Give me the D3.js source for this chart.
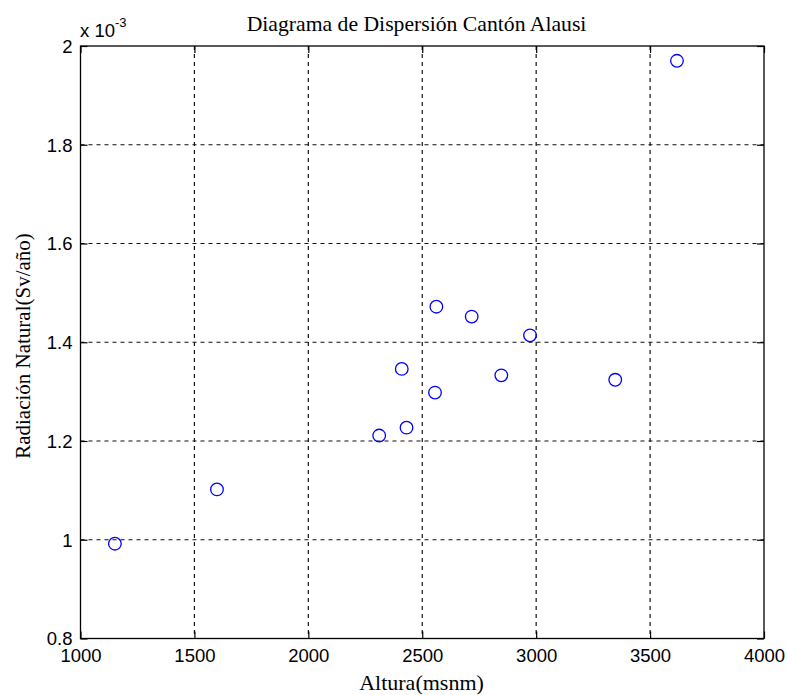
<!DOCTYPE html>
<html><head><meta charset="utf-8">
<script src="https://cdn.jsdelivr.net/npm/d3@7"></script>
<style>body{margin:0;background:#fff}</style>
</head><body>
<svg id="chart" width="787" height="695"></svg>
<script>
const altura = [1151, 1599, 2311, 2410, 2431, 2556, 2562, 2717, 2847, 2973, 3347, 3618];
const radiacion = [0.992, 1.102, 1.211, 1.346, 1.227, 1.298, 1.472, 1.452, 1.333, 1.414, 1.324, 1.970];
const xTicks = [1000, 1500, 2000, 2500, 3000, 3500, 4000];
const yTicks = [0.8, 1, 1.2, 1.4, 1.6, 1.8, 2];
const title = "Diagrama de Dispersión Cantón Alausi";
const xLabel = "Altura(msnm)";
const yLabel = "Radiación Natural(Sv/año)";

const svg = d3.select("#chart");
const L = 80.5, R = 764, T = 46, B = 638.5;
const x = d3.scaleLinear().domain([1000, 4000]).range([L, R]);
const y = d3.scaleLinear().domain([0.8, 2]).range([B, T]);

// grid
const grid = svg.append("g").attr("stroke", "#111").attr("stroke-width", 1.2).attr("stroke-dasharray", "4,4");
grid.selectAll("line.v").data(xTicks.slice(1, -1)).join("line")
  .attr("x1", d => x(d)).attr("x2", d => x(d)).attr("y1", T).attr("y2", B);
grid.selectAll("line.h").data(yTicks.slice(1, -1)).join("line")
  .attr("x1", L).attr("x2", R).attr("y1", d => y(d)).attr("y2", d => y(d));

// axes with inner ticks
const fontTick = "'Liberation Sans', Arial, sans-serif";
const xAxis = svg.append("g").attr("transform", `translate(0,${B})`)
  .call(d3.axisBottom(x).tickValues(xTicks).tickSizeInner(-7).tickSizeOuter(0).tickPadding(10).tickFormat(d3.format("d")));
const xAxisTop = svg.append("g").attr("transform", `translate(0,${T})`)
  .call(d3.axisTop(x).tickValues(xTicks).tickSizeInner(-7).tickSizeOuter(0).tickFormat(""));
const yAxis = svg.append("g").attr("transform", `translate(${L},0)`)
  .call(d3.axisLeft(y).tickValues(yTicks).tickSizeInner(-7).tickSizeOuter(0).tickPadding(8).tickFormat(d => d3.format("~g")(d)));
const yAxisR = svg.append("g").attr("transform", `translate(${R},0)`)
  .call(d3.axisRight(y).tickValues(yTicks).tickSizeInner(-7).tickSizeOuter(0).tickFormat(""));
[xAxis, xAxisTop, yAxis, yAxisR].forEach(g => {
  g.select(".domain").remove();
  g.selectAll(".tick line").attr("stroke", "#000").attr("stroke-width", 1.2);
  g.selectAll(".tick text").attr("font-family", fontTick).attr("font-size", 18.5).attr("fill", "#000");
});
yAxis.selectAll(".tick text").attr("dy", "0.35em");

// frame
svg.append("rect").attr("x", L).attr("y", T).attr("width", R - L).attr("height", B - T)
  .attr("fill", "none").attr("stroke", "#000").attr("stroke-width", 1.3);

// exponent
const ex = svg.append("text").attr("x", 80).attr("y", 37).attr("font-family", fontTick).attr("font-size", 18.5);
ex.append("tspan").text("x 10");
ex.append("tspan").attr("dy", -10).attr("font-size", 13).text("-3");

// points
svg.append("g").selectAll("circle").data(altura).join("circle")
  .attr("cx", d => x(d)).attr("cy", (d, i) => y(radiacion[i])).attr("r", 6.3)
  .attr("fill", "none").attr("stroke", "#0000ff").attr("stroke-width", 1.3);

// labels
const serif = "'Liberation Serif', 'Times New Roman', serif";
svg.append("text").attr("x", 416.5).attr("y", 31).attr("text-anchor", "middle")
  .attr("font-family", serif).attr("font-size", 21.7).text(title);
svg.append("text").attr("x", 421.5).attr("y", 690).attr("text-anchor", "middle")
  .attr("font-family", serif).attr("font-size", 22).text(xLabel);
svg.append("text").attr("transform", "translate(30,346) rotate(-90)").attr("text-anchor", "middle")
  .attr("font-family", serif).attr("font-size", 21).text(yLabel);
</script>
</body></html>
